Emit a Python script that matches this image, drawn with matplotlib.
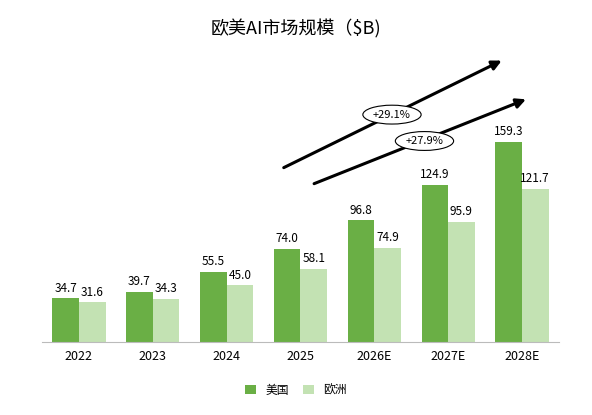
import matplotlib
matplotlib.use("Agg")
import matplotlib.pyplot as plt
import numpy as np

plt.rcParams['font.family'] = ['Noto Sans CJK SC', 'DejaVu Sans']

years = ["2022", "2023", "2024", "2025", "2026E", "2027E", "2028E"]
usa = [34.7, 39.7, 55.5, 74.0, 96.8, 124.9, 159.3]
europe = [31.6, 34.3, 45.0, 58.1, 74.9, 95.9, 121.7]
growth_labels = ["+29.1%", "+27.9%"]

fig = plt.figure(figsize=(5.92, 4.15), dpi=100)
ax = fig.add_axes([0.071, 0.176, 0.873, 0.684])
x = np.arange(len(years))
w = 0.36
b1 = ax.bar(x - w / 2, usa, w, color="#6aaf45", label="美国")
b2 = ax.bar(x + w / 2, europe, w, color="#c3e2b3", label="欧洲")
for bars, vals in ((b1, usa), (b2, europe)):
    for r, v in zip(bars, vals):
        ax.text(r.get_x() + r.get_width() / 2, v + 3, f"{v:.1f}",
                ha="center", va="bottom", fontsize=8.5)

ax.set_xlim(-0.5, len(years) - 0.5)
ax.set_ylim(0, 226)
ax.set_xticks(x)
ax.set_xticklabels(years, fontsize=9)
ax.tick_params(axis="x", length=0, pad=6)
ax.set_yticks([])
for s in ("top", "right", "left"):
    ax.spines[s].set_visible(False)
ax.spines["bottom"].set_color("#bbbbbb")

# growth arrows
arrows = [((2.74, 137.8), (5.76, 225)), ((3.15, 125.2), (6.09, 194))]
label_pos = [(4.24, 181), (4.68, 160)]
for (s, e), lp, lab in zip(arrows, label_pos, growth_labels):
    ax.annotate("", xy=e, xytext=s, annotation_clip=False,
                arrowprops=dict(arrowstyle="-|>", color="black", lw=2.2,
                                mutation_scale=14))
    ax.text(lp[0], lp[1], lab, ha="center", va="center", fontsize=8,
            bbox=dict(boxstyle="ellipse,pad=0.15", fc="white", ec="black", lw=0.8))

fig.text(0.5, 0.93, "欧美AI市场规模（$B)", ha="center", va="center", fontsize=13)
fig.legend(loc="center", bbox_to_anchor=(0.5, 0.06), ncol=2, frameon=False,
           fontsize=8.5, handlelength=0.9, handleheight=0.9, columnspacing=1.2)
fig.savefig("out.png", dpi=100)
